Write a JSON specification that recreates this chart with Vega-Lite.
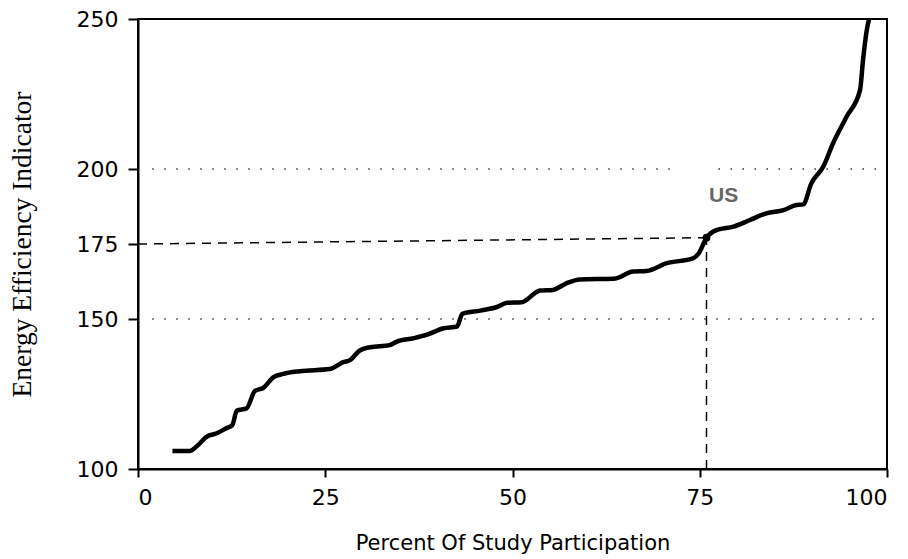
{
  "$schema": "https://vega.github.io/schema/vega-lite/v6.json",
  "width": 749,
  "height": 450,
  "autosize": {"type": "none"},
  "padding": {"left": 138, "top": 19, "right": 21, "bottom": 90},
  "background": "white",
  "config": {
    "view": {"stroke": "black", "strokeWidth": 2},
    "axis": {"grid": false, "domainColor": "black", "domainWidth": 2, "tickColor": "black", "tickWidth": 2, "labelColor": "black", "titleColor": "black", "titleFontWeight": "normal"}
  },
  "datasets": {
    "curve": [
      {"pct": 4.6, "eei": 106.0}, {"pct": 6.9, "eei": 106.0}, {"pct": 7.8, "eei": 107.5},
      {"pct": 9.2, "eei": 110.8}, {"pct": 10.5, "eei": 111.9}, {"pct": 11.8, "eei": 113.6},
      {"pct": 12.6, "eei": 114.7}, {"pct": 13.2, "eei": 119.5}, {"pct": 14.5, "eei": 120.2},
      {"pct": 15.6, "eei": 126.0}, {"pct": 16.7, "eei": 127.0}, {"pct": 18.1, "eei": 130.6},
      {"pct": 19.4, "eei": 131.7}, {"pct": 21.6, "eei": 132.6}, {"pct": 25.6, "eei": 133.3},
      {"pct": 27.4, "eei": 135.6}, {"pct": 28.3, "eei": 136.3}, {"pct": 29.6, "eei": 139.5},
      {"pct": 31.0, "eei": 140.6}, {"pct": 33.6, "eei": 141.3}, {"pct": 34.5, "eei": 142.4},
      {"pct": 36.8, "eei": 143.6}, {"pct": 38.5, "eei": 144.7}, {"pct": 40.8, "eei": 146.9},
      {"pct": 42.6, "eei": 147.5}, {"pct": 43.3, "eei": 151.7}, {"pct": 45.7, "eei": 152.8},
      {"pct": 47.9, "eei": 154.0}, {"pct": 49.3, "eei": 155.4}, {"pct": 51.2, "eei": 155.6},
      {"pct": 53.7, "eei": 159.5}, {"pct": 55.4, "eei": 159.7}, {"pct": 57.2, "eei": 161.9},
      {"pct": 59.0, "eei": 163.2}, {"pct": 63.5, "eei": 163.4}, {"pct": 66.1, "eei": 165.8},
      {"pct": 67.9, "eei": 166.0}, {"pct": 70.6, "eei": 168.6}, {"pct": 74.1, "eei": 170.2},
      {"pct": 74.9, "eei": 172.0}, {"pct": 75.9, "eei": 177.1}, {"pct": 77.3, "eei": 179.7},
      {"pct": 79.5, "eei": 180.8}, {"pct": 81.7, "eei": 183.0}, {"pct": 83.9, "eei": 185.2},
      {"pct": 86.2, "eei": 186.3}, {"pct": 87.9, "eei": 188.0}, {"pct": 88.8, "eei": 188.2},
      {"pct": 89.9, "eei": 195.2}, {"pct": 91.5, "eei": 200.8}, {"pct": 92.8, "eei": 208.6},
      {"pct": 94.6, "eei": 217.4}, {"pct": 96.4, "eei": 226.3}, {"pct": 96.8, "eei": 236.3},
      {"pct": 97.3, "eei": 246.3}, {"pct": 97.6, "eei": 250.0}
    ],
    "grid": [
      {"x": 1.9, "x2": 98.8, "y": 150, "y2": 150},
      {"x": 1.9, "x2": 71.0, "y": 200, "y2": 200},
      {"x": 77.5, "x2": 98.8, "y": 200, "y2": 200}
    ],
    "ref": [
      {"x": 0, "x2": 75.9, "y": 175, "y2": 177.1},
      {"x": 75.9, "x2": 75.9, "y": 100, "y2": 177.1}
    ],
    "us": [{"pct": 75.9, "eei": 177.1, "label": "US", "lx": 78.2, "ly": 191}]
  },
  "layer": [
    {
      "data": {"name": "grid"},
      "mark": {"type": "rule", "color": "#333", "strokeWidth": 1.5, "strokeDash": [1.5, 10.5]},
      "encoding": {
        "x": {"field": "x", "type": "quantitative", "scale": {"domain": [0, 100], "nice": false, "zero": false},
          "axis": {"values": [0, 25, 50, 75, 100], "title": "Percent Of Study Participation", "tickSize": 8, "labelPadding": 10, "labelFont": "DejaVu Sans", "labelFontSize": 22, "titleFont": "DejaVu Sans", "titleFontSize": 21, "titlePadding": 24}},
        "x2": {"field": "x2"},
        "y": {"field": "y", "type": "quantitative", "scale": {"domain": [100, 250], "nice": false, "zero": false},
          "axis": {"values": [100, 150, 175, 200, 250], "title": "Energy Efficiency Indicator", "tickSize": 10, "labelPadding": 10, "labelFont": "DejaVu Sans", "labelFontSize": 22, "titleFont": "Liberation Serif", "titleFontSize": 27.5, "titlePadding": 40}},
        "y2": {"field": "y2"}
      }
    },
    {
      "data": {"name": "ref"},
      "mark": {"type": "rule", "color": "black", "strokeWidth": 1.5, "strokeDash": [9, 7]},
      "encoding": {
        "x": {"field": "x", "type": "quantitative"},
        "x2": {"field": "x2"},
        "y": {"field": "y", "type": "quantitative"},
        "y2": {"field": "y2"}
      }
    },
    {
      "data": {"name": "curve"},
      "mark": {"type": "line", "color": "black", "strokeWidth": 4.5, "interpolate": "monotone"},
      "encoding": {
        "x": {"field": "pct", "type": "quantitative"},
        "y": {"field": "eei", "type": "quantitative"}
      }
    },
    {
      "data": {"name": "us"},
      "mark": {"type": "point", "filled": true, "color": "black", "size": 60, "opacity": 1},
      "encoding": {
        "x": {"field": "pct", "type": "quantitative"},
        "y": {"field": "eei", "type": "quantitative"}
      }
    },
    {
      "data": {"name": "us"},
      "mark": {"type": "text", "color": "#666666", "font": "Liberation Sans", "fontWeight": "bold", "fontSize": 21, "align": "center", "baseline": "middle"},
      "encoding": {
        "x": {"field": "lx", "type": "quantitative"},
        "y": {"field": "ly", "type": "quantitative"},
        "text": {"field": "label"}
      }
    }
  ]
}
